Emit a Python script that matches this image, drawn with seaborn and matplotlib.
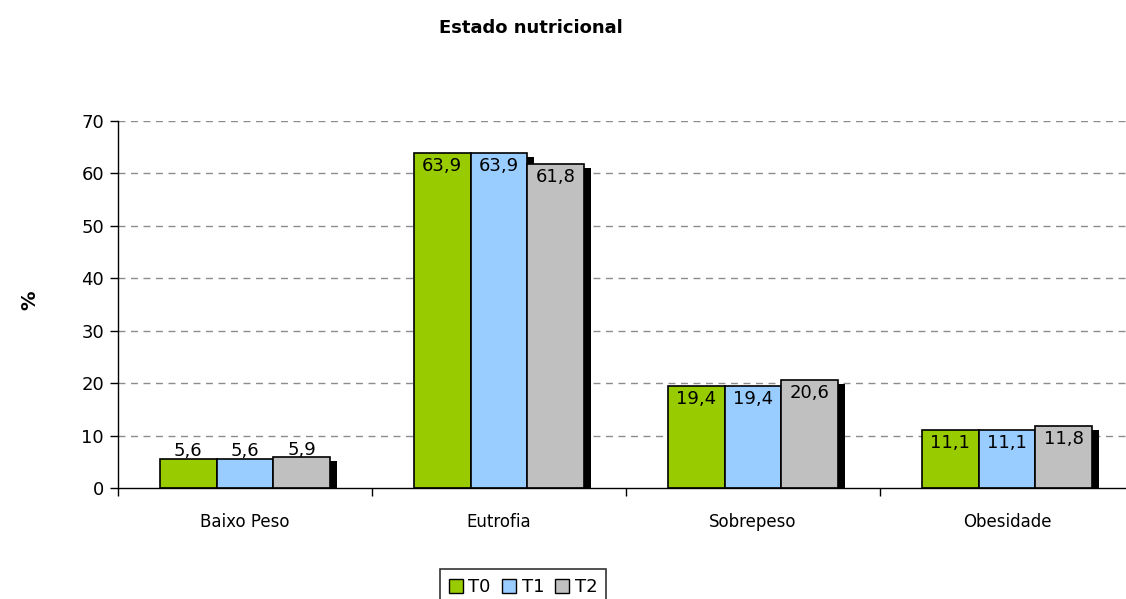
import pandas as pd
import matplotlib
matplotlib.use("Agg")
import matplotlib.pyplot as plt
import matplotlib.patheffects as pe
from matplotlib.patches import Patch
import seaborn as sns

categorias = ["Baixo Peso", "Eutrofia", "Sobrepeso", "Obesidade"]
tempos = ["T0", "T1", "T2"]
t0 = [5.6, 63.9, 19.4, 11.1]
t1 = [5.6, 63.9, 19.4, 11.1]
t2 = [5.9, 61.8, 20.6, 11.8]
cores = ["#99CC00", "#99CCFF", "#C0C0C0"]

df = pd.DataFrame({
    "categoria": categorias * 3,
    "tempo": [t for t in tempos for _ in categorias],
    "valor": t0 + t1 + t2,
})

sns.set_style("white")
plt.rcParams["font.family"] = ["DejaVu Sans"]
plt.rcParams["text.color"] = "black"
plt.rcParams["xtick.color"] = "black"
plt.rcParams["ytick.color"] = "black"

fig = plt.figure(figsize=(11.26, 5.99), dpi=100)
W, H = 1126, 599
ax = fig.add_axes([118 / W, (H - 488) / H, (1134 - 118) / W, (488 - 121) / H])

sns.barplot(
    data=df, x="categoria", y="valor", hue="tempo",
    palette=cores, saturation=1, width=0.67, gap=0, ax=ax,
    edgecolor="black", linewidth=1.2, legend=False, errorbar=None,
)

sombra = [pe.SimplePatchShadow(offset=(5, -3), shadow_rgbFace="black", alpha=1), pe.Normal()]
for p in ax.patches:
    p.set_path_effects(sombra)

# rótulos de dados
for cont in ax.containers:
    for barra in cont:
        v = barra.get_height()
        xc = barra.get_x() + barra.get_width() / 2
        if v > 8:
            y, va = v - 0.8, "top"
        else:
            y, va = v - 0.3, "bottom"
        ax.text(xc, y, f"{v:.1f}".replace(".", ","), ha="center", va=va,
                fontsize=13, color="black")

ax.set_ylim(0, 70)
ax.set_xlim(-0.5, 3.5)
ax.set_yticks(range(0, 71, 10))
ax.tick_params(axis="y", labelsize=13, length=6, width=1, direction="out", left=True, pad=4)
ax.set_xticks(range(4))
ax.set_xticklabels(categorias)
ax.set_xticks([-0.5, 0.5, 1.5, 2.5, 3.5], minor=True)
ax.tick_params(axis="x", which="major", length=0, labelsize=12, pad=18)
ax.tick_params(axis="x", which="minor", length=6, width=1, direction="out", bottom=True)

for y in range(10, 71, 10):
    ax.axhline(y, color="#8c8c8c", linestyle=(0, (5, 4)), linewidth=1, zorder=0)

for s in ["top", "right"]:
    ax.spines[s].set_visible(False)
for s in ["left", "bottom"]:
    ax.spines[s].set_color("black")
    ax.spines[s].set_linewidth(1)

ax.set_xlabel("")
ax.set_ylabel("")
fig.text(30 / W, 1 - 300 / H, "%", rotation=90, ha="center", va="center",
         fontsize=14, fontweight="bold")

fig.text(531 / W, 1 - 28 / H, "Estado nutricional", ha="center", va="center",
         fontsize=13, fontweight="bold")

handles = [Patch(facecolor=c, edgecolor="black", label=t) for c, t in zip(cores, tempos)]
leg = fig.legend(handles=handles, ncol=3, loc="upper center",
                 bbox_to_anchor=(523 / W, 1 - 560 / H), frameon=True, fancybox=False,
                 edgecolor="black", fontsize=13, handlelength=0.8, handleheight=0.8,
                 handletextpad=0.3, columnspacing=0.6, borderpad=0.5)
leg.get_frame().set_linewidth(1.2)

fig.savefig("out.png", dpi=100)
